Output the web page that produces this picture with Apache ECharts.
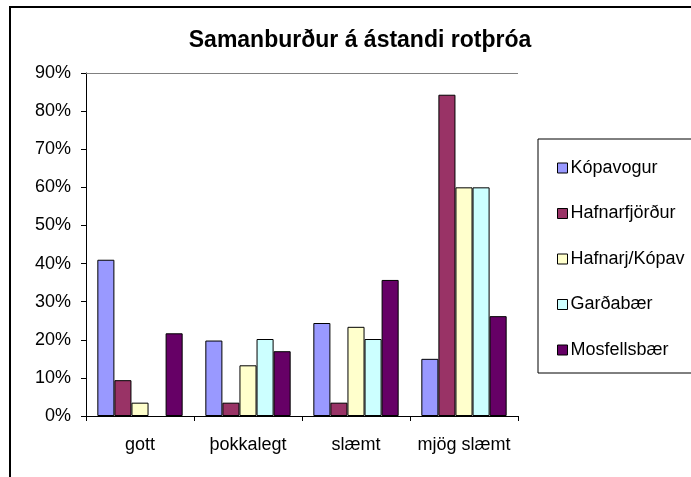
<!DOCTYPE html>
<html>
<head>
<meta charset="utf-8">
<script src="https://cdn.jsdelivr.net/npm/echarts@6/dist/echarts.min.js"></script>
<style>
  html, body { margin: 0; padding: 0; background: #fff; }
  #chart { width: 691px; height: 477px; }
</style>
</head>
<body>
<div id="chart"></div>
<script>
// flokkar og gildi (%), lesin af myndinni
var categories = ['gott', 'þokkalegt', 'slæmt', 'mjög slæmt'];
var seriesNames = ['Kópavogur', 'Hafnarfjörður', 'Hafnarj/Kópav', 'Garðabær', 'Mosfellsbær'];
var kopavogur = [41, 19.8, 24.4, 15];
var hafnarfjordur = [9.4, 3.5, 3.5, 84.3];
var hafnarjKopav = [3.5, 13.3, 23.4, 60];
var gardabaer = [null, 20.2, 20.2, 60]; // 0% -> engin súla
var mosfellsbaer = [21.7, 17, 35.7, 26.2];
var colors = ['#9999FF', '#993366', '#FFFFCC', '#CCFFFF', '#660066'];

var allData = [kopavogur, hafnarfjordur, hafnarjKopav, gardabaer, mosfellsbaer];
var font = 'Arial, "Liberation Sans", sans-serif';

var series = [];
for (var i = 0; i < seriesNames.length; i++) {
    series.push({
        name: seriesNames[i],
        type: 'bar',
        data: allData[i],
        barGap: '0%',
        barCategoryGap: '21%',
        itemStyle: { color: colors[i], borderColor: '#000', borderWidth: 1 },
        animation: false
    });
}
// efsta línan við 90%
series[0].markLine = {
    silent: true,
    symbol: 'none',
    label: { show: false },
    lineStyle: { color: '#808080', type: 'solid', width: 1 },
    data: [{ yAxis: 90 }]
};

var myChart = echarts.init(document.getElementById('chart'));
myChart.setOption({
    animation: false,
    title: {
        text: 'Samanburður á ástandi rotþróa',
        left: 355,
        textAlign: 'center',
        top: 24,
        textStyle: { fontFamily: font, fontSize: 23, fontWeight: 'bold', color: '#000' }
    },
    legend: {
        orient: 'vertical',
        left: 552,
        top: 154,
        itemWidth: 10,
        itemHeight: 10,
        itemGap: 27.5,
        icon: 'rect',
        itemStyle: { borderColor: '#000', borderWidth: 1 },
        textStyle: { fontFamily: font, fontSize: 18, color: '#000', lineHeight: 18, padding: [0, 0, 0, -2] },
        data: seriesNames
    },
    grid: { left: 86, right: 173, top: 73, bottom: 61 },
    xAxis: {
        type: 'category',
        data: categories,
        axisLine: { lineStyle: { color: '#000' } },
        axisTick: { show: true, interval: 0, alignWithLabel: false, length: 5, lineStyle: { color: '#000' } },
        axisLabel: { interval: 0, hideOverlap: false, fontFamily: font, fontSize: 18, color: '#000', margin: 20 }
    },
    yAxis: {
        type: 'value',
        min: 0,
        max: 90,
        interval: 10,
        axisLine: { show: true, lineStyle: { color: '#000' } },
        axisTick: { show: true, length: 5, lineStyle: { color: '#000' } },
        splitLine: { show: false },
        axisLabel: { fontFamily: font, fontSize: 18, color: '#000', margin: 15, formatter: '{value}%' }
    },
    graphic: [
        { type: 'rect', shape: { x: 10, y: 7, width: 700, height: 500 }, style: { fill: 'none', stroke: '#000', lineWidth: 2 }, silent: true },
        { type: 'rect', shape: { x: 538, y: 139, width: 170, height: 234 }, style: { fill: 'none', stroke: '#000', lineWidth: 1 }, silent: true }
    ],
    series: series
});
</script>
</body>
</html>
